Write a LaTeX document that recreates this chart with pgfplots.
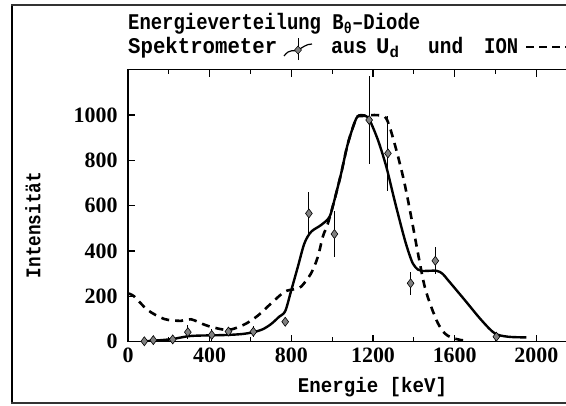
\documentclass[border=0pt]{standalone}
\usepackage{fontspec}
\setmainfont{DejaVu Serif}
\newfontfamily\mono{Liberation Mono}
\newfontfamily\numfont{Liberation Serif}
\usepackage{pgfplots}
\pgfplotsset{compat=1.18}

\newcommand\ttlfont{\mono\bfseries\fontsize{22.5}{24}\selectfont}
\newcommand\lblfont{\mono\bfseries\fontsize{21}{24}\selectfont}
\newcommand\tckfont{\numfont\bfseries\fontsize{22}{24}\selectfont}
% set a text piece to a given width, keeping its height
\newcommand\fitw[2]{\resizebox{#1}{\height}{#2}}

\begin{document}
\begin{tikzpicture}[x=1bp,y=1bp]
\useasboundingbox (0,0) rectangle (566,405);
\clip (0,0) rectangle (566,405);

% outer frame of the figure
\draw[line width=2.5bp] (12,2) -- (12,401);
\draw[line width=1.5bp, black!80] (11,400) -- (566,400);
\draw[line width=1.5bp, black!80] (11,2) -- (566,2);

\begin{axis}[
  at={(128bp,63.3bp)}, anchor=south west,
  scale only axis, width=449.2bp, height=272bp,
  xmin=0, xmax=2200, ymin=0, ymax=1200,
  axis line style={line width=1.2bp},
  xtick={0,400,...,2000},
  minor xtick={200,600,...,2200},
  ytick={0,200,...,1000},
  ytick pos=left,
  tick align=inside,
  major tick length=7bp, minor tick length=4.5bp,
  every tick/.style={line width=1.1bp, black},
  tick label style={font=\tckfont},
  xticklabel style={yshift=-3bp},
  yticklabel style={xshift=-7bp},
  /pgf/number format/assume math mode=true,
  /pgf/number format/1000 sep={},
]

% energy distribution derived from U_d and ION
\addplot[black, line width=2.6bp, dash pattern=on 8bp off 6bp, smooth, tension=0.5]
coordinates {
 (0,213) (30,200) (96,140) (178,100) (260,92) (309,99) (390,70) (489,52)
 (570,76) (636,115) (701,169) (766,220) (815,232) (848,243) (897,302)
 (930,375) (954,463) (979,522) (1011,625) (1044,743) (1077,875) (1118,985)
 (1142,995) (1175,998) (1207,1000) (1257,993) (1281,949) (1314,846)
 (1347,728) (1371,625) (1396,507) (1420,390) (1453,243) (1485,154)
 (1518,81) (1551,37) (1583,19) (1632,7) (1670,5)
};

% smoothed spectrometer distribution
\addplot[black, line width=2.4bp, smooth, tension=0.5]
coordinates {
 (80,2) (150,6) (219,12) (293,24) (350,27) (410,28) (492,30) (560,34)
 (614,42) (660,55) (701,78) (740,110) (770,135) (799,225) (832,331)
 (864,434) (897,485) (946,515) (987,551) (1011,625) (1044,743) (1077,875)
 (1118,985) (1142,1000) (1160,998) (1183,978) (1224,890) (1265,772)
 (1305,625) (1347,478) (1371,404) (1395,345) (1420,318) (1440,312)
 (1510,313) (1540,300) (1567,272) (1649,184) (1730,96) (1796,37)
 (1861,22) (1951,19)
};

% spectrometer measurements with error bars
\addplot[only marks, mark=diamond*, mark size=4.5bp,
  mark options={fill=black!50, draw=black, line width=0.6bp},
  error bars/.cd, y dir=both, y explicit,
  error bar style={line width=0.9bp, black}, error mark=none]
coordinates {
 (80,2) +- (0,15)
 (124,7) +- (0,15)
 (219,10) +- (0,15)
 (293,42) +- (0,30)
 (410,30) +- (0,25)
 (492,45) +- (0,20)
 (614,44) +- (0,25)
 (770,88) +- (0,15)
 (886,566) +- (0,95)
 (1011,475) +- (0,100)
 (1181,978) +- (0,195)
 (1273,831) +- (0,165)
 (1384,258) +- (0,50)
 (1505,357) +- (0,60)
 (1804,22) +- (0,15)
};
\end{axis}

% titles
\node[anchor=base west, inner sep=0, font=\ttlfont] at (128,376)
  {\fitw{292bp}{Energieverteilung B\textsubscript{θ}–Diode}};
\node[anchor=base west, inner sep=0, font=\ttlfont] at (128,352)
  {\fitw{149bp}{Spektrometer}};
\draw[line width=1.2bp] (284,349) .. controls (290,357) and (294,353) .. (298,355)
  .. controls (302,357) and (306,361) .. (312,361);
\draw[line width=0.8bp] (298,345) -- (298,367);
\fill[black!50, draw=black, line width=0.5bp] (298,351) -- (301.5,355) -- (298,359) -- (294.5,355) -- cycle;
\node[anchor=base west, inner sep=0, font=\ttlfont] at (331,352) {\fitw{36bp}{aus}};
\node[anchor=base west, inner sep=0, font=\ttlfont] at (376,352) {U\textsubscript{d}};
\node[anchor=base west, inner sep=0, font=\ttlfont] at (428,352) {\fitw{35bp}{und}};
\node[anchor=base west, inner sep=0, font=\ttlfont] at (484,352) {\fitw{34bp}{ION}};
\draw[line width=1.4bp, dash pattern=on 8bp off 5bp] (526,358) -- (566,358);

% axis labels
\node[anchor=base, inner sep=0, font=\lblfont] at (372.5,13) {\fitw{149bp}{Energie [keV]}};
\node[rotate=90, inner sep=0, font=\lblfont] at (33,180) {\fitw{106bp}{Intensität}};
\end{tikzpicture}
\end{document}
